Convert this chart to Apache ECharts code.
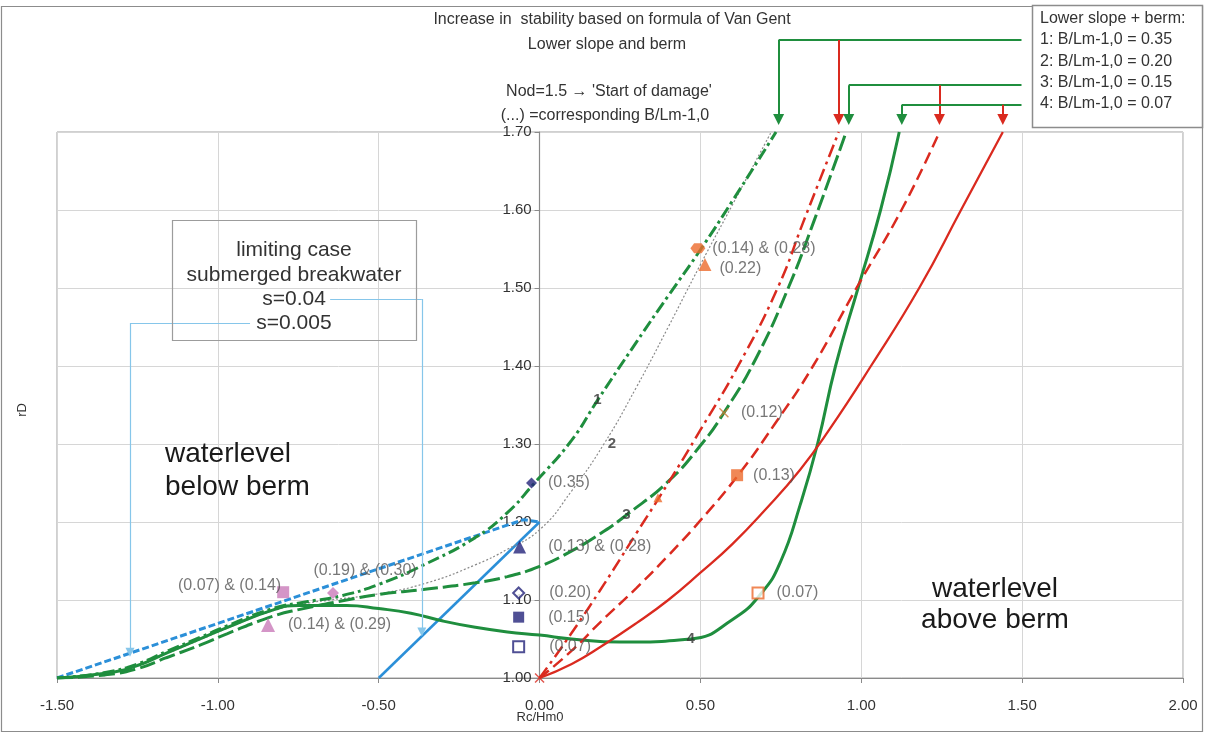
<!DOCTYPE html>
<html>
<head>
<meta charset="utf-8">
<title>rD – Rc/Hm0</title>
<script src="https://cdn.jsdelivr.net/npm/echarts@6/dist/echarts.min.js"></script>
<style>
  html, body { margin: 0; padding: 0; background: #fff; }
  #chart { width: 1205px; height: 733px; }
</style>
</head>
<body>
<div id="chart"></div>
<script>
// ---------- data ----------
const xTicks = [-1.5, -1.0, -0.5, 0, 0.5, 1.0, 1.5, 2.0];
const yTicks = [1.0, 1.1, 1.2, 1.3, 1.4, 1.5, 1.6, 1.7];

// Lower slope + berm, curves 1..4 (green) – [Rc/Hm0, rD]
const green1 = [[-1.5,1.0],[-1.35,1.007],[-1.25,1.018],[-1.16,1.034],[-1.05,1.053],[-0.97,1.067],[-0.83,1.089],[-0.72,1.098],[-0.62,1.105],[-0.5,1.12],[-0.36,1.145],[-0.2,1.18],[-0.1,1.212],[-0.02,1.248],[0.1,1.305],[0.18,1.356],[0.3,1.43],[0.4,1.49],[0.5,1.549],[0.6,1.612],[0.735,1.70]];
const green2 = [[-1.5,1.0],[-1.35,1.006],[-1.25,1.016],[-1.16,1.031],[-1.05,1.05],[-0.97,1.064],[-0.83,1.086],[-0.72,1.096],[-0.65,1.1],[-0.5,1.108],[-0.35,1.122],[-0.2,1.145],[-0.1,1.165],[0,1.19],[0.1,1.24],[0.2,1.30],[0.3,1.372],[0.4,1.45],[0.5,1.53],[0.6,1.607],[0.72,1.70]];
const green3 = [[-1.5,1.0],[-1.35,1.004],[-1.25,1.012],[-1.16,1.026],[-1.05,1.043],[-0.97,1.057],[-0.83,1.079],[-0.745,1.088],[-0.6,1.1],[-0.5,1.107],[-0.35,1.114],[-0.2,1.122],[-0.1,1.13],[0,1.143],[0.1,1.163],[0.2,1.188],[0.27,1.209],[0.4,1.252],[0.5,1.298],[0.573,1.34],[0.673,1.41],[0.773,1.50],[0.854,1.587],[0.953,1.70]];
const green4 = [[-1.5,1.0],[-1.35,1.006],[-1.25,1.016],[-1.16,1.032],[-1.05,1.051],[-0.97,1.065],[-0.83,1.087],[-0.75,1.093],[-0.6,1.093],[-0.5,1.089],[-0.4,1.083],[-0.3,1.073],[-0.2,1.065],[-0.1,1.059],[0,1.055],[0.1,1.05],[0.25,1.046],[0.47,1.05],[0.6,1.075],[0.69,1.109],[0.75,1.15],[0.81,1.222],[0.864,1.30],[0.92,1.40],[0.99,1.50],[1.06,1.60],[1.118,1.70]];

// Van Gent formula, same berm widths (red)
const red1 = [[0,1.0],[0.1,1.058],[0.2,1.12],[0.3,1.185],[0.4,1.25],[0.5,1.318],[0.617,1.40],[0.74,1.50],[0.822,1.587],[0.93,1.70]];
const red3 = [[0,1.0],[0.1,1.035],[0.19,1.072],[0.3,1.115],[0.4,1.157],[0.5,1.202],[0.617,1.26],[0.73,1.325],[0.85,1.40],[0.985,1.50],[1.125,1.60],[1.243,1.70]];
const red4 = [[0,1.0],[0.1,1.018],[0.19,1.04],[0.3,1.07],[0.4,1.10],[0.5,1.135],[0.6,1.172],[0.7,1.215],[0.81,1.267],[0.9,1.318],[1.03,1.40],[1.18,1.50],[1.31,1.60],[1.44,1.70]];

// limiting case, submerged breakwater
const limitS004 = [[-1.5,1.0],[-0.05,1.203],[0,1.2]];
const limitS0005 = [[-0.5,1.0],[0,1.2]];

// measured start-of-damage points and their B/Lm-1,0 labels
const navyPoints = [[-0.025,1.25],[-0.062,1.168],[-0.065,1.109],[-0.065,1.078],[-0.065,1.04]];
const navyLabels = ['(0.35)','(0.13) & (0.28)','(0.20)','(0.15)','(0.07)'];
const orangePoints = [[0.492,1.551],[0.514,1.53],[0.573,1.34],[0.614,1.26],[0.679,1.109],[0.368,1.231]];
const orangeLabels = ['(0.14) & (0.28)','(0.22)','(0.12)','(0.13)','(0.07)',''];
const pinkPoints = [[-0.797,1.110],[-0.844,1.068],[-0.642,1.109]];
const pinkLabels = ['(0.07) & (0.14)','(0.14) & (0.29)','(0.19) & (0.30)'];

const curveTags = ['1','2','3','4'];
const tagX = [0.18, 0.2, 0.27, 0.47];

// leader lines from the text box to the two limiting lines
const noteS004 = [[-0.651,1.486],[-0.366,1.486],[-0.366,1.059]];
const noteS0005 = [[-0.90,1.455],[-1.273,1.455],[-1.273,1.033]];

const titleLines = ['Increase in  stability based on formula of Van Gent','Lower slope and berm'];
const noteLines = ['Nod=1.5 \u2192 \'Start of damage\'','(...) =corresponding B/Lm-1,0'];
const legendTitle = 'Lower slope + berm:';
const legendRows = ['1: B/Lm-1,0 = 0.35','2: B/Lm-1,0 = 0.20','3: B/Lm-1,0 = 0.15','4: B/Lm-1,0 = 0.07'];
const boxLines = ['limiting case','submerged breakwater','s=0.04','s=0.005'];

// ---------- styling ----------
const FONT = "'Liberation Sans', Arial, sans-serif";
const GREEN = '#1f8e3e';
const RED = '#da2a1f';
const BLUE = '#2b8fd8';
const NOTE_BLUE = '#86c6ea';
const NAVY = '#24247a';
const ORANGE = '#ec6a2c';
const PINK = '#c97ab9';

const GRID = { left: 57, right: 22, top: 132, bottom: 55 };
const CHART_W = 1205;

const chart = echarts.init(document.getElementById('chart'), null, { renderer: 'canvas' });

function curve(name, data, color, width, dash, smooth) {
  return {
    type: 'line', name, data, smooth: smooth === undefined ? 0.5 : smooth,
    symbol: 'none', silent: true, z: 3,
    lineStyle: { color, width, type: dash }
  };
}

// a polyline drawn as straight segments, the last one ending in an arrow head
function leader(coords, color, width, head) {
  const segs = [];
  for (let i = 0; i < coords.length - 1; i++) segs.push({ coords: [coords[i], coords[i + 1]] });
  const base = {
    type: 'lines', coordinateSystem: 'cartesian2d', clip: false, silent: true, z: 4,
    lineStyle: { color, width, opacity: 1, curveness: 0 }, itemStyle: { color }
  };
  const out = [];
  if (segs.length > 1) out.push(Object.assign({}, base, { symbol: 'none', data: segs.slice(0, -1) }));
  out.push(Object.assign({}, base, { symbol: ['none', 'triangle'], symbolSize: [head, head], data: segs.slice(-1) }));
  return out;
}

const HEX = 'path://M3,0 L9,0 L12,4 L9,8 L3,8 L0,4 Z';
const CROSS = 'path://M1,0 L5,4 L9,0 L10,1 L6,5 L10,9 L9,10 L5,6 L1,10 L0,9 L4,5 L0,1 Z';

function marker(point, label, cfg) {
  return {
    type: 'scatter', silent: true, z: 6,
    symbol: cfg.symbol, symbolSize: cfg.size,
    itemStyle: cfg.hollow
      ? { color: '#fff', borderColor: cfg.color, borderWidth: 2 }
      : { color: cfg.color },
    label: {
      show: !!label, formatter: '{b}', position: cfg.pos || 'right',
      distance: cfg.dist == null ? 10 : cfg.dist, offset: cfg.offset || [0, 0],
      fontFamily: FONT, fontSize: 16, color: '#555'
    },
    data: [{ value: point, name: label }]
  };
}

const navyStyle = [
  { symbol: 'diamond', size: 11, dist: 11 },
  { symbol: 'triangle', size: 13, dist: 22 },
  { symbol: 'diamond', size: 11, hollow: true, dist: 24 },
  { symbol: 'rect', size: 11, dist: 24 },
  { symbol: 'rect', size: 11, hollow: true, dist: 24 }
];
const orangeStyle = [
  { symbol: HEX, size: [15, 10], dist: 7 },
  { symbol: 'triangle', size: 13, dist: 8, offset: [0, 4] },
  { symbol: CROSS, size: 10, dist: 12, color: '#c97a34' },
  { symbol: 'rect', size: 12, dist: 10 },
  { symbol: 'rect', size: 11, hollow: true, dist: 12 },
  { symbol: 'triangle', size: 9 }
];
const pinkStyle = [
  { symbol: 'rect', size: 12, pos: 'left', dist: -4, offset: [0, -7] },
  { symbol: 'triangle', size: 14, dist: 13 },
  { symbol: 'diamond', size: 12, pos: 'top', dist: 8, offset: [32, 0] }
];

const series = [
  curve('s=0.04', limitS004, BLUE, 3, [7, 3], false),
  curve('s=0.005', limitS0005, BLUE, 2.5, 'solid', false),
  curve('2', green2, '#8a8a8a', 1.2, [2, 2]),
  curve('1', green1, GREEN, 3, [12, 4, 3, 4]),
  curve('3', green3, GREEN, 3, [16, 5]),
  curve('4', green4, GREEN, 3, 'solid'),
  curve('VG 1', red1, RED, 2.5, [13, 5, 3, 5]),
  curve('VG 3', red3, RED, 2.5, [12, 6]),
  curve('VG 4', red4, RED, 2.3, 'solid'),
  ...leader(noteS004, NOTE_BLUE, 1.2, 9),
  ...leader(noteS0005, NOTE_BLUE, 1.2, 9)
];

navyPoints.forEach((p, i) => series.push(marker(p, navyLabels[i], Object.assign({ color: NAVY }, navyStyle[i]))));
orangePoints.forEach((p, i) => series.push(marker(p, orangeLabels[i], Object.assign({ color: ORANGE }, orangeStyle[i]))));
pinkPoints.forEach((p, i) => series.push(marker(p, pinkLabels[i], Object.assign({ color: PINK }, pinkStyle[i]))));
series.push(marker(red1[0], '', { symbol: CROSS, size: 10, color: RED }));

// curve numbers written on the curves
const greenCurves = [green1, green2, green3, green4];
series.push({
  type: 'scatter', silent: true, z: 7,
  symbol: 'circle', symbolSize: 1, itemStyle: { color: 'rgba(0,0,0,0)' },
  label: {
    show: true, formatter: '{b}', position: 'inside',
    fontFamily: FONT, fontSize: 15, fontWeight: 'bold', color: '#333'
  },
  data: curveTags.map((t, i) => {
    const p = greenCurves[i].find(q => q[0] === tagX[i]);
    return { value: p, name: t, label: i === 1 ? { offset: [8, 0] } : {} };
  })
});

// leader lines from the legend rows down to the curve ends
const rowY = [1.818, 1.760, 1.735];
const tipY = 1.716;
const legendEdgeX = 1.498;
const pairs = [[green1, red1], [green3, red3], [green4, red4]];
pairs.forEach(([g, r], i) => {
  const gx = g[g.length - 1][0] + 0.008;
  const rx = r[r.length - 1][0];
  series.push(...leader([[legendEdgeX, rowY[i]], [gx, rowY[i]], [gx, tipY]], GREEN, 2, 11));
  series.push(...leader([[rx, rowY[i]], [rx, tipY]], RED, 2, 11));
});

const text = (str, x, y, opt) => Object.assign({
  type: 'text', x, y, silent: true, z: 10,
  style: Object.assign({
    text: str, fontFamily: FONT, fontSize: 16, fill: '#333',
    align: 'center', verticalAlign: 'middle'
  }, (opt && opt.style) || {})
}, opt && opt.el || {});

const graphics = [
  { type: 'rect', silent: true, z: -1, shape: { x: 1.5, y: 6.5, width: 1201, height: 725 },
    style: { fill: 'none', stroke: '#8c8c8c', lineWidth: 1.2 } },
  text(titleLines[0], 612, 20),
  text(titleLines[1], 607, 45),
  text(noteLines[0], 609, 92),
  text(noteLines[1], 605, 116),
  { type: 'rect', silent: true, z: 9, shape: { x: 1032.5, y: 5.5, width: 170, height: 122 },
    style: { fill: '#fff', stroke: '#8c8c8c', lineWidth: 1.5 } },
  text(legendTitle, 1040, 19, { style: { align: 'left' } }),
  ...legendRows.map((r, i) => text(r, 1040, [40, 62, 83, 104][i], { style: { align: 'left' } })),
  { type: 'rect', silent: true, z: 9, shape: { x: 172.5, y: 220.5, width: 244, height: 120 },
    style: { fill: 'none', stroke: '#9c9c9c', lineWidth: 1.2 } },
  ...boxLines.map((t, i) => text(t, 294, [250, 275, 299, 323][i], { style: { fontSize: 21, fill: '#333' } })),
  text('waterlevel\nbelow berm', 165, 471, { style: { align: 'left', fontSize: 28, lineHeight: 33, fill: '#1a1a1a' } }),
  text('waterlevel\nabove berm', 995, 605, { style: { fontSize: 28, lineHeight: 31, fill: '#1a1a1a' } }),
  text('Rc/Hm0', 540, 717, { style: { fontSize: 13, fill: '#333' } }),
  text('rD', 22, 410, { style: { fontSize: 13, fill: '#333' }, el: { rotation: Math.PI / 2 } })
];

// the rD axis is drawn through Rc/Hm0 = 0
const xMin = xTicks[0], xMax = xTicks[xTicks.length - 1];
const gridW = CHART_W - GRID.left - GRID.right;
const yAxisShift = (0 - xMin) / (xMax - xMin) * gridW;

chart.setOption({
  animation: false,
  backgroundColor: '#fff',
  grid: Object.assign({ show: true, borderColor: '#a0a0a0', borderWidth: 1 }, GRID),
  xAxis: {
    type: 'value', min: xMin, max: xMax,
    interval: Math.round((xTicks[1] - xTicks[0]) * 1000) / 1000,
    axisLine: { onZero: false, lineStyle: { color: '#8a8a8a', width: 1.2 } },
    axisTick: { show: true, length: 5, lineStyle: { color: '#8a8a8a' } },
    axisLabel: { margin: 20, fontFamily: FONT, fontSize: 15, color: '#333', formatter: v => v.toFixed(2) },
    splitLine: { show: true, lineStyle: { color: '#d6d6d6', width: 1 } }
  },
  yAxis: {
    type: 'value', min: yTicks[0], max: yTicks[yTicks.length - 1],
    interval: Math.round((yTicks[1] - yTicks[0]) * 1000) / 1000,
    position: 'left', offset: -yAxisShift,
    axisLine: { show: true, onZero: false, lineStyle: { color: '#8a8a8a', width: 1.2 } },
    axisTick: { show: true, length: 5, lineStyle: { color: '#8a8a8a' } },
    axisLabel: { margin: 8, fontFamily: FONT, fontSize: 15, color: '#333', formatter: v => v.toFixed(2) },
    splitLine: { show: true, lineStyle: { color: '#d6d6d6', width: 1 } }
  },
  series,
  graphic: graphics
});
</script>
</body>
</html>
